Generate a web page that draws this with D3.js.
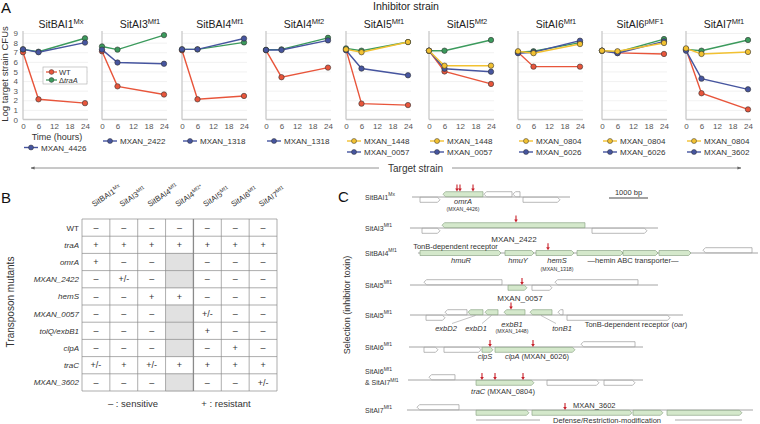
<!DOCTYPE html>
<html><head><meta charset="utf-8">
<script src="https://cdn.jsdelivr.net/npm/d3@7"></script>
<style>
body{margin:0;background:#fff}
svg{font-family:"Liberation Sans",Arial,Helvetica,sans-serif;display:block}
</style>
</head><body>
<svg id="c" width="760" height="424"></svg>
<script>
// ================= DATA =================
// Panel A
const timePoints = [0, 6, 24];
const xTicks = [0, 6, 12, 18, 24];
const yTicks = [0, 1, 2, 3, 4, 5, 6, 7, 8, 9];
const inhibitorNames = ["SitBAI1", "SitAI3", "SitBAI4", "SitAI4", "SitAI5", "SitAI5", "SitAI6", "SitAI6", "SitAI7"];
const inhibitorSups  = ["Mx", "Mf1", "Mf1", "Mf2", "Mf1", "Mf2", "Mf1", "pMF1", "Mf1"];
const wtValues   = [[7.0,2.1,1.7],[7.1,3.45,2.6],[7.2,2.1,2.45],[7.2,4.4,5.4],[7.3,1.65,1.5],[7.15,5.0,3.7],[7.0,5.5,5.5],[7.15,6.93,6.82],[7.3,2.73,1.05]];
const traAValues = [[7.3,7.05,8.45],[7.6,7.27,8.78],[7.3,7.3,8.02],[7.25,7.3,8.5],[7.4,7.16,8.06],[7.16,7.16,8.27],[7.0,7.1,8.0],[7.16,7.0,8.37],[7.3,7.16,8.27]];
const mutantANames  = ["MXAN_4426","MXAN_2422","MXAN_1318","MXAN_1318","MXAN_0057","MXAN_0057","MXAN_6026","MXAN_6026","MXAN_3602"];
const mutantAValues = [[7.3,7.0,8.0],[7.27,5.93,5.8],[7.3,7.3,8.43],[7.23,7.23,8.23],[7.2,5.3,4.6],[7.16,5.28,4.97],[6.9,7.0,8.2],[7.16,6.9,8.13],[7.16,4.25,3.14]];
const mutantBNames  = [null,null,null,null,"MXAN_1448","MXAN_1448","MXAN_0804","MXAN_0804","MXAN_0804"];
const mutantBValues = [null,null,null,null,[7.3,7.0,8.06],[7.16,5.6,5.6],[7.1,6.9,7.85],[7.16,7.1,7.96],[7.4,6.82,7.03]];

// Panel B
const mutantRows = ["WT","traA","omrA","MXAN_2422","hemS","MXAN_0057","tolQ/exbB1","clpA","traC","MXAN_3602"];
const tableColNames = ["SitBAI1","SitAI3","SitBAI4","SitAI4","SitAI5","SitAI6","SitAI7"];
const tableColSups  = ["Mx","Mf1","Mf1","Mf2*","Mf1","Mf1","Mf1"];
const tableValues = [
  ["–","–","–","–","–","–","–"],
  ["+","+","+","+","+","+","+"],
  ["+","–","–",null,"–","–","–"],
  ["–","+/-","–",null,"–","–","–"],
  ["–","–","+","+","–","–","–"],
  ["–","–","–",null,"+/-","–","–"],
  ["–","–","–",null,"+","–","–"],
  ["–","–","–",null,"–","+","–"],
  ["+/-","+","+/-","+","+","+","+"],
  ["–","–","–",null,"–","–","+/-"]
];

// Panel C (coordinates in bp)
const locusNames = [["SitBAI1","Mx"],["SitAI3","Mf1"],["SitBAI4","Mf1"],["SitAI5","Mf1"],["SitAI5","Mf1"],["SitAI6","Mf1"],["SitAI6","Mf1"],["SitAI7","Mf1"]];
const locusSpans = [[103,4154],[51,6410],[256,8974],[51,6410],[51,7051],[26,6026],[0,6026],[-26,8846]];
// [start, end, strand (1 fwd, -1 rev, 0 centred), hit]
const locusGenes = [
  [[308,821,1,0],[897,1923,-1,1],[1949,2667,-1,0],[2692,2872,-1,0],[2949,3897,1,0]],
  [[359,821,1,0],[872,4538,-1,1],[4718,6128,1,0]],
  [[308,2385,0,1],[2487,3231,0,1],[3282,4256,0,1],[4333,5513,0,1],[5513,6410,0,1],[6436,7256,0,1],[7564,8821,-1,0]],
  [[410,2410,-1,0],[2564,3051,1,1],[3179,3692,1,0],[3769,5897,-1,0]],
  [[462,949,1,0],[949,1513,-1,0],[1538,1923,-1,1],[1974,2308,-1,1],[2462,3000,-1,1],[3128,3692,-1,1],[3846,3975,-1,0],[4077,6718,1,0]],
  [[410,769,1,0],[923,1872,1,0],[1897,2179,1,1],[2231,4282,1,1],[4436,5821,-1,0]],
  [[538,1205,-1,0],[1744,3231,1,1],[3564,4897,1,0],[5026,5821,1,0]],
  [[231,1308,-1,0],[1744,3103,1,1],[3179,5744,1,1],[5769,6538,1,1],[6641,8564,1,1]]
];
const insertionSites = [[1256,1333,1667],[2769],[3590],[2923],[2641],[2103,3205],[1897,2231,2949],[4026]];
const scaleBarBp = 1000;

// ================= DRAW =================
const svg = d3.select('#c');
const COL = {wt:'#e8553b', traA:'#3b9a5c', mutA:'#46559f', mutB:'#f2c131'};

function supText(sel, main, sup, supSize, shift, italicMain){
  const a = sel.append('tspan').text(main);
  if (italicMain) a.attr('font-style','italic');
  sel.append('tspan').attr('dy', -shift).attr('font-size', supSize).text(sup);
  return sel;
}

// panel letters
svg.append('text').attr('x',1).attr('y',13).attr('font-size',15).attr('fill','#111').text('A');
svg.append('text').attr('x',1).attr('y',203).attr('font-size',15).attr('fill','#111').text('B');
svg.append('text').attr('x',338).attr('y',202).attr('font-size',15).attr('fill','#111').text('C');

svg.append('text').attr('x',406).attr('y',10).attr('text-anchor','middle').attr('font-size',10.5).attr('fill','#222').text('Inhibitor strain');

// ---- Panel A ----
const panelLeft = [23,102,182,266,346,429,518,602,686];
const panelW = 62;
const y = d3.scaleLinear().domain([0,9]).range([119.5, 33]);

svg.append('text').attr('transform','translate(8,74) rotate(-90)').attr('text-anchor','middle')
  .attr('font-size',9.5).attr('fill','#333').text('Log target strain CFUs');

panelLeft.forEach((x0,i)=>{
  const x = d3.scaleLinear().domain([0,24]).range([x0, x0+panelW]);
  const g = svg.append('g');
  g.append('g').attr('transform',`translate(${x0},0)`)
    .call(d3.axisRight(y).tickValues(yTicks.slice(1)).tickSize(panelW+3).tickFormat(''))
    .call(s=>s.select('.domain').remove())
    .call(s=>s.selectAll('line').attr('stroke','#ebebeb').attr('stroke-width',0.7));
  g.append('line').attr('x1',x0).attr('x2',x0).attr('y1',y(0)).attr('y2',y(9)-2).attr('stroke','#c9c9c9').attr('stroke-width',1.3);
  g.append('g').attr('transform',`translate(0,${y(0)})`)
    .call(d3.axisBottom(x).tickValues(xTicks).tickSize(0).tickPadding(4))
    .call(s=>s.select('.domain').attr('d',`M${x0},0H${x0+panelW+3}`).attr('stroke','#c9c9c9').attr('stroke-width',1.3))
    .call(s=>s.selectAll('text').attr('font-size',8).attr('fill','#555').attr('font-family','"Liberation Sans",Arial,sans-serif'));
  if (i===0){
    g.append('g').attr('transform',`translate(${x0},0)`)
      .call(d3.axisLeft(y).tickValues(yTicks).tickSize(0).tickPadding(5))
      .call(s=>s.select('.domain').remove())
      .call(s=>s.selectAll('text').attr('font-size',8).attr('fill','#555').attr('font-family','"Liberation Sans",Arial,sans-serif'));
  }
  supText(g.append('text').attr('x',x0+38).attr('y',28).attr('text-anchor','middle').attr('font-size',10.5).attr('fill','#222'),
    inhibitorNames[i], inhibitorSups[i], 7.5, 4.5);

  const series = [
    {vals: wtValues[i], c: COL.wt},
    {vals: traAValues[i], c: COL.traA},
    {vals: mutantAValues[i], c: COL.mutA},
    {vals: mutantBValues[i], c: COL.mutB}
  ].filter(s=>s.vals);
  const line = d3.line().x((d,k)=>x(timePoints[k])).y(d=>y(d));
  series.forEach(s=>{
    g.append('path').attr('d',line(s.vals)).attr('fill','none').attr('stroke',s.c).attr('stroke-width',1.4);
    g.selectAll(null).data(s.vals).join('circle').attr('cx',(d,k)=>x(timePoints[k])).attr('cy',d=>y(d))
      .attr('r',2.7).attr('fill',s.c).attr('stroke','#333').attr('stroke-width',0.6);
  });

  const legs = [];
  if (mutantBNames[i]) legs.push([mutantBNames[i], COL.mutB]);
  legs.push([mutantANames[i], COL.mutA]);
  const rowYs = i===0 ? [147.5] : (legs.length===1 ? [141] : [141,152]);
  legs.forEach((l,k)=>{
    const ly = rowYs[k];
    g.append('line').attr('x1',x0+1).attr('x2',x0+15).attr('y1',ly).attr('y2',ly).attr('stroke',l[1]).attr('stroke-width',1.4);
    g.append('circle').attr('cx',x0+8).attr('cy',ly).attr('r',2.5).attr('fill',l[1]).attr('stroke','#333').attr('stroke-width',0.5);
    g.append('text').attr('x',x0+18).attr('y',ly+3).attr('font-size',8).attr('fill','#333').text(l[0]);
  });
  if (i===0){
    g.append('text').attr('x',57).attr('y',140).attr('text-anchor','middle').attr('font-size',9).attr('fill','#333').text('Time (hours)');
    g.append('rect').attr('x',43).attr('y',67).attr('width',44).attr('height',17).attr('fill','#fff').attr('stroke','#aaa').attr('stroke-width',0.6);
    [['WT',COL.wt,72],['traA',COL.traA,80]].forEach((l,k)=>{
      g.append('line').attr('x1',46).attr('x2',57).attr('y1',l[2]).attr('y2',l[2]).attr('stroke',l[1]).attr('stroke-width',1.3);
      g.append('circle').attr('cx',51.5).attr('cy',l[2]).attr('r',2.4).attr('fill',l[1]).attr('stroke','#333').attr('stroke-width',0.5);
      const t = g.append('text').attr('x',59).attr('y',l[2]+2.8).attr('font-size',7.5).attr('fill','#333');
      if (k===0) t.text('WT'); else { t.append('tspan').text('Δ'); t.append('tspan').attr('font-style','italic').text('traA'); }
    });
  }
});

// Target strain arrow
const arrowY = 168;
svg.append('defs').html(
 '<marker id="ah" viewBox="0 0 10 10" refX="9" refY="5" markerWidth="5" markerHeight="5" orient="auto-start-reverse"><path d="M0,1 L10,5 L0,9 z" fill="#666"/></marker>');
svg.append('line').attr('x1',31).attr('x2',379).attr('y1',arrowY).attr('y2',arrowY).attr('stroke','#777').attr('stroke-width',0.8).attr('marker-start','url(#ah)');
svg.append('line').attr('x1',452).attr('x2',741).attr('y1',arrowY).attr('y2',arrowY).attr('stroke','#777').attr('stroke-width',0.8).attr('marker-end','url(#ah)');
svg.append('text').attr('x',415.5).attr('y',arrowY+3.5).attr('text-anchor','middle').attr('font-size',10).attr('fill','#333').text('Target strain');

// ---- Panel B ----
const colX = d3.scaleBand().domain(d3.range(tableColNames.length)).range([82,277]);
const rowY = d3.scaleBand().domain(d3.range(mutantRows.length)).range([219,391]);
const gB = svg.append('g');
tableValues.forEach((row,i)=>row.forEach((v,j)=>{
  if (v===null) gB.append('rect').attr('x',colX(j)).attr('y',rowY(i)-0.5).attr('width',colX.bandwidth()).attr('height',rowY.bandwidth()+1).attr('fill','#e1e1e1');
}));
d3.range(mutantRows.length+1).forEach(i=>{
  const yy = i<mutantRows.length ? rowY(i) : rowY.range()[1];
  gB.append('line').attr('x1',82).attr('x2',277).attr('y1',yy).attr('y2',yy).attr('stroke','#8a8a8a').attr('stroke-width',0.7);
});
d3.range(tableColNames.length+1).forEach(j=>{
  const xx = j<tableColNames.length ? colX(j) : colX.range()[1];
  gB.append('line').attr('x1',xx).attr('x2',xx).attr('y1',219).attr('y2',391).attr('stroke','#8a8a8a').attr('stroke-width',(j===4)?1.3:0.7);
});
tableValues.forEach((row,i)=>row.forEach((v,j)=>{
  if (v) gB.append('text').attr('x',colX(j)+colX.bandwidth()/2).attr('y',rowY(i)+rowY.bandwidth()/2+3.2)
    .attr('text-anchor','middle').attr('font-size',9).attr('fill','#333').text(v);
}));
mutantRows.forEach((r,i)=>{
  gB.append('text').attr('x',79).attr('y',rowY(i)+rowY.bandwidth()/2+3).attr('text-anchor','end')
    .attr('font-size',8).attr('fill','#333').attr('font-style', r==='WT'?'normal':'italic').text(r);
});
tableColNames.forEach((c,j)=>{
  const t = gB.append('text').attr('transform',`translate(${colX(j)+colX.bandwidth()/2-2},207) rotate(-33)`)
    .attr('font-size',7.8).attr('fill','#333');
  supText(t, c, tableColSups[j], 5.2, 3.2);
});
svg.append('text').attr('transform','translate(14,302) rotate(-90)').attr('text-anchor','middle').attr('font-size',10).attr('fill','#333').text('Transposon mutants');
svg.append('text').attr('x',133).attr('y',406.5).attr('text-anchor','middle').attr('font-size',9.5).attr('fill','#333').text('– : sensitive');
svg.append('text').attr('x',226).attr('y',406.5).attr('text-anchor','middle').attr('font-size',9.5).attr('fill','#333').text('+ : resistant');

// ---- Panel C ----
const bp = d3.scaleLinear().domain([0, 9000]).range([408, 759]);
const locusY = [197, 228, 253, 285, 315, 347, 380, 410];
const gC = svg.append('g');
svg.append('text').attr('transform','translate(350,305) rotate(-90)').attr('text-anchor','middle').attr('font-size',9).attr('fill','#333').text('Selection (inhibitor toxin)');

function genePath(s,e,top,h,dir){
  const x1=bp(s), x2=bp(e), p=Math.min(2.5,(x2-x1)/2), m=top+h/2;
  if (dir>=0) return `M${x1},${top}H${x2-p}L${x2},${m}L${x2-p},${top+h}H${x1}Z`;
  return `M${x2},${top}H${x1+p}L${x1},${m}L${x1+p},${top+h}H${x2}Z`;
}
function boxTop(strand, ly){ return strand===1 ? ly+0.3 : (strand===-1 ? ly-5.3 : ly-2.5); }

locusNames.forEach((ln,i)=>{
  const ly = locusY[i];
  if (i===6){
    supText(gC.append('text').attr('x',365).attr('y',ly-6).attr('font-size',7).attr('fill','#333'), ln[0], ln[1], 5, 3.5);
    const t2 = gC.append('text').attr('x',365).attr('y',ly+5).attr('font-size',7).attr('fill','#333');
    supText(t2, '& '+locusNames[7][0], locusNames[7][1], 5, 3.5);
  } else {
    supText(gC.append('text').attr('x',365).attr('y',ly+2.5).attr('font-size',7).attr('fill','#333'), ln[0], ln[1], 5, 3.5);
  }
  gC.append('line').attr('x1',bp(locusSpans[i][0])).attr('x2',bp(locusSpans[i][1])).attr('y1',ly).attr('y2',ly).attr('stroke','#8d8d8d').attr('stroke-width',0.8);
  locusGenes[i].forEach(gn=>{
    const top = boxTop(gn[2], ly);
    gC.append('path').attr('d',genePath(gn[0],gn[1],top,5,gn[2]===-1?-1:1))
      .attr('fill', gn[3] ? '#d4e8cb' : '#fff').attr('stroke', gn[3] ? '#7f9a78' : '#8a8a8a').attr('stroke-width',0.6);
  });
  insertionSites[i].forEach(site=>{
    const gn = locusGenes[i].find(g=>site>=g[0] && site<=g[1]);
    const tip = gn ? boxTop(gn[2], ly) - 0.3 : ly;
    gC.append('line').attr('x1',bp(site)).attr('x2',bp(site)).attr('y1',tip-7).attr('y2',tip-2.5)
      .attr('stroke','#c8202a').attr('stroke-width',1.1);
    gC.append('path').attr('d',`M${bp(site)-1.8},${tip-3}L${bp(site)+1.8},${tip-3}L${bp(site)},${tip}Z`).attr('fill','#c8202a');
  });
});

// gene labels: [locus, bp, dy, size, parts, anchor]
const geneLabels = [
  [0,1410,7,7.5,[["omrA",1]]],
  [0,1410,13.8,5.2,[["(MXAN_4426)",0]]],
  [1,2718,13.5,8,[["MXAN_2422",0]]],
  [2,1218,-4.5,7.5,[["TonB-dependent receptor",0]]],
  [2,1359,10,7.5,[["hmuR",1]]],
  [2,2821,10,7.5,[["hmuY",1]]],
  [2,3821,10,7.5,[["hemS",1]]],
  [2,3821,17.5,5.2,[["(MXAN_1318)",0]]],
  [2,5769,10,7.5,[["—hemin ABC transporter—",0]]],
  [3,2872,15.5,8,[["MXAN_0057",0]]],
  [4,974,16,7.5,[["exbD2",1]]],
  [4,1744,16,7.5,[["exbD1",1]]],
  [4,2667,11.5,7.5,[["exbB1",1]]],
  [4,2667,17.5,5.2,[["(MXAN_1448)",0]]],
  [4,3949,16,7.5,[["tonB1",1]]],
  [4,5846,12,7.5,[["TonB-dependent receptor (",0],["oar",1],[")",0]]],
  [5,1974,11.5,7.5,[["clpS",1]]],
  [5,3308,11.5,7.5,[["clpA",1],[" (MXAN_6026)",0]]],
  [6,2436,14,7.5,[["traC",1],[" (MXAN_0804)",0]]],
  [7,4231,-2,7.5,[["MXAN_3602",0]],'start'],
  [7,5103,13,7.5,[["Defense/Restriction-modification",0]]]
];
geneLabels.forEach(l=>{
  const t = gC.append('text').attr('x',bp(l[1])).attr('y',locusY[l[0]]+l[2]).attr('text-anchor',l[5]||'middle')
    .attr('font-size',l[3]).attr('fill','#333');
  l[4].forEach(p=>{ const s=t.append('tspan').text(p[0]); if(p[1]) s.attr('font-style','italic'); });
});
[[1730,974],[2141,1744],[3410,3949]].forEach(d=>{
  gC.append('path').attr('d',`M${bp(d[0])},${locusY[4]+0.5} L${bp(d[1])+ (d[1]<d[0]?6:-6)},${locusY[4]+8.5}`)
    .attr('fill','none').attr('stroke','#888').attr('stroke-width',0.5);
});
gC.append('line').attr('x1',bp(1744)).attr('x2',bp(3385)).attr('y1',locusY[7]+10).attr('y2',locusY[7]+10).attr('stroke','#aaa').attr('stroke-width',1);
gC.append('line').attr('x1',bp(6846)).attr('x2',bp(8564)).attr('y1',locusY[7]+10).attr('y2',locusY[7]+10).attr('stroke','#aaa').attr('stroke-width',1);
const sb0 = 5154;
gC.append('line').attr('x1',bp(sb0)).attr('x2',bp(sb0+scaleBarBp)).attr('y1',198).attr('y2',198).attr('stroke','#333').attr('stroke-width',0.9);
gC.append('text').attr('x',bp(sb0+scaleBarBp/2)).attr('y',195).attr('text-anchor','middle').attr('font-size',7.5).attr('fill','#333').text('1000 bp');
</script>
</body></html>
